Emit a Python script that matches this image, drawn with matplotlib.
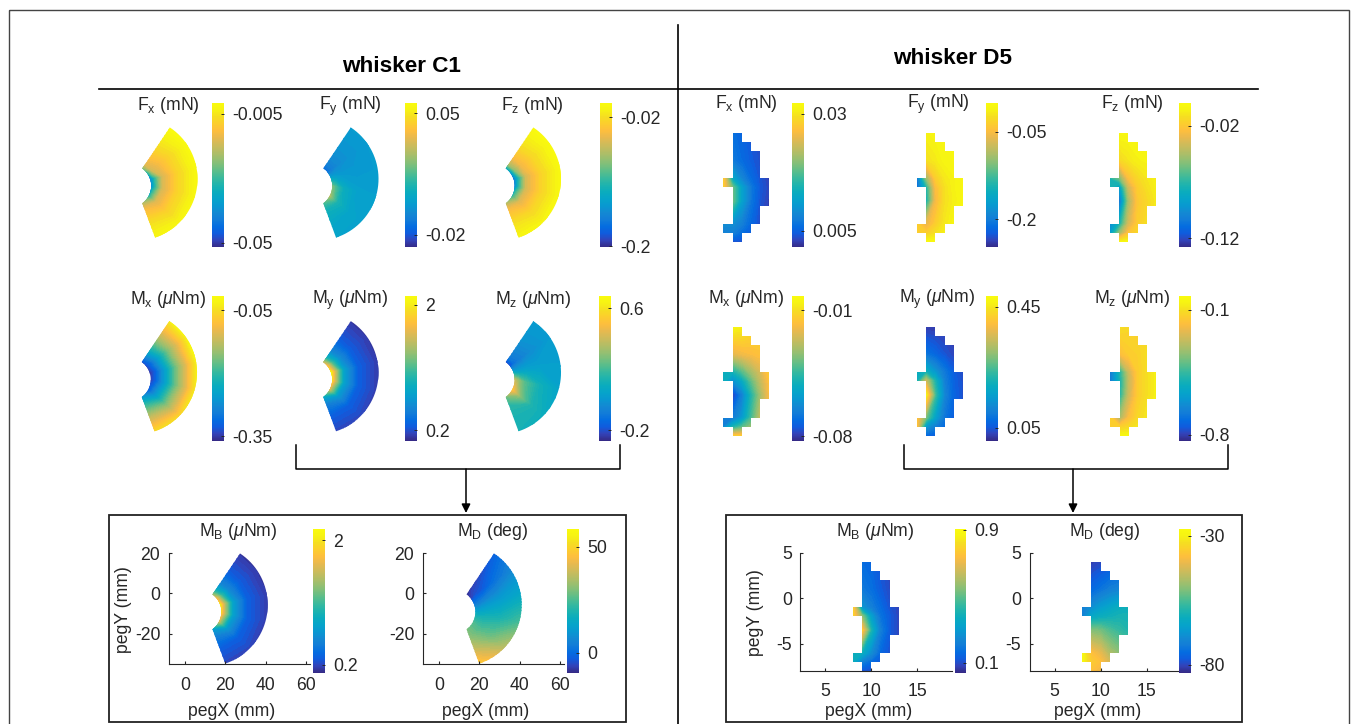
import numpy as np
import matplotlib
matplotlib.use('Agg')
import matplotlib.pyplot as plt
from matplotlib.colors import LinearSegmentedColormap, Normalize
from matplotlib.cm import ScalarMappable
from matplotlib.patches import Polygon, Rectangle

plt.rcParams['font.family'] = ['Liberation Sans', 'DejaVu Sans']
plt.rcParams['mathtext.fontset'] = 'custom'
plt.rcParams['mathtext.rm'] = 'Liberation Sans'
plt.rcParams['mathtext.it'] = 'Liberation Sans:italic'
plt.rcParams['mathtext.bf'] = 'Liberation Sans:bold'
plt.rcParams['axes.unicode_minus'] = False

W, H = 1357, 724
FS = 12.7
DARK = '#262626'

# whisker C1: value tables, rows = angle around the peg arc, columns = radius (mm)
c1_angles = [60, 36, 12, -12, -40, -72]
c1_radii = [8, 11, 15, 22, 34]
c1_fx = [[-.0238, -.0137, -.0102, -.0061, -.0011],
         [-.0313, -.0152, -.0122, -.0077, -.0011],
         [-.0439, -.0288, -.0152, -.0082, -.0011],
         [-.0475, -.0303, -.0152, -.0082, -.0011],
         [-.0455, -.0273, -.0142, -.0082, -.0011],
         [-.0339, -.0187, -.0112, -.0061, -.0011]]
c1_fy = [[-.0155, -.0105, -.0072, -.0047, -.0022],
         [-.0155, -.0105, -.0072, -.0047, -.0022],
         [.0045, .0003, -.0022, -.0030, -.0022],
         [.0244, .0145, .0045, -.0005, -.0013],
         [.0435, .0228, .0078, .0012, -.0013],
         [.0311, .0145, .0061, .0020, -.0005]]
c1_fz = [[-.1411, -.0704, -.0400, -.0198, .0004],
         [-.1573, -.0805, -.0440, -.0239, .0004],
         [-.1856, -.1209, -.0560, -.0280, .0004],
         [-.1856, -.1169, -.0560, -.0280, .0004],
         [-.1715, -.1007, -.0520, -.0260, .0004],
         [-.1411, -.0704, -.0400, -.0198, .0004]]
c1_mx = [[-.3438, -.2921, -.2301, -.1475, -.0338],
         [-.3472, -.3128, -.2577, -.1612, -.0235],
         [-.3576, -.3334, -.2749, -.1716, -.0166],
         [-.3576, -.3334, -.2749, -.1716, -.0166],
         [-.3507, -.3162, -.2577, -.1612, -.0235],
         [-.3266, -.2646, -.2060, -.1268, -.0235]]
c1_my = [[1.504, .879, .504, .254, .088],
         [1.817, 1.088, .588, .254, .088],
         [2.233, 1.460, .733, .275, .088],
         [2.233, 1.460, .733, .275, .088],
         [2.129, 1.337, .671, .275, .108],
         [1.400, .775, .463, .254, .108]]
c1_mz = [[-.222, -.099, -.061, -.013, .015],
         [-.222, -.120, -.075, -.030, .015],
         [.110, .044, .044, .034, .025],
         [.443, .320, .206, .110, .034],
         [.633, .491, .301, .139, .072],
         [.320, .225, .158, .129, .110]]
c1_mb = [[1.372, .875, .544, .295, .129],
         [1.745, 1.082, .606, .295, .129],
         [2.159, 1.455, .751, .316, .129],
         [2.159, 1.455, .751, .316, .129],
         [2.118, 1.331, .689, .316, .150],
         [1.227, .709, .502, .295, .150]]
c1_md = [[-8, -8, -7, -6, -3],
         [-7, -4, -3, 1, 6],
         [3, 5, 8, 11, 15],
         [14, 15, 17, 19, 25],
         [24.5, 24.5, 24.5, 28, 39.4],
         [30, 30, 31, 39, 55]]

# whisker D5: value tables on the peg grid, rows = pegY, columns = pegX (mm)
d5_x = [8, 9, 10, 11, 12, 13]
d5_y = [4, 1, -1, -2, -3.5, -6, -7, -8]
d5_fx = [[.0061, .0061, .0052, .0040, .0030, .0027],
         [.0071, .0071, .0058, .0046, .0037, .0027],
         [.0278, .0123, .0083, .0058, .0040, .0027],
         [.0278, .0185, .0114, .0071, .0043, .0030],
         [.0200, .0185, .0114, .0068, .0040, .0027],
         [.0092, .0092, .0077, .0055, .0034, .0027],
         [.0077, .0077, .0061, .0046, .0034, .0027],
         [.0046, .0040, .0037, .0030, .0027, .0027]]
d5_fy = [[-.013, -.013, -.010, -.008, -.005, -.005],
         [-.025, -.025, -.018, -.010, -.008, -.005],
         [-.211, -.0995, -.038, -.020, -.013, -.008],
         [-.211, -.144, -.050, -.025, -.013, -.008],
         [-.149, -.149, -.055, -.025, -.015, -.008],
         [-.038, -.062, -.038, -.020, -.010, -.008],
         [-.038, -.038, -.025, -.015, -.010, -.008],
         [-.013, -.008, -.005, -.005, -.005, -.005]]
d5_fz = [[-.003, -.003, -.003, -.003, -.003, -.003],
         [-.019, -.015, -.010, -.006, -.005, -.003],
         [-.074, -.057, -.025, -.015, -.010, -.006],
         [-.074, -.0895, -.038, -.019, -.012, -.007],
         [-.109, -.109, -.048, -.021, -.015, -.009],
         [-.096, -.077, -.036, -.019, -.012, -.009],
         [-.092, -.051, -.023, -.015, -.010, -.009],
         [-.003, -.003, -.003, -.003, -.003, -.003]]
d5_mx = [[-.0046, -.0046, -.0062, -.0102, -.0119, -.0143],
         [-.0223, -.0223, -.0199, -.0183, -.0167, -.0143],
         [-.0520, -.0504, -.0424, -.0328, -.0247, -.0143],
         [-.0520, -.0625, -.0545, -.0408, -.0280, -.0167],
         [-.0746, -.0802, -.0665, -.0488, -.0328, -.0183],
         [-.0665, -.0681, -.0601, -.0440, -.0280, -.0183],
         [-.0665, -.0504, -.0424, -.0344, -.0263, -.0183],
         [-.0143, -.0143, -.0143, -.0143, -.0143, -.0143]]
d5_my = [[.021, .021, .021, .021, .021, .021],
         [.093, .084, .064, .045, .031, .026],
         [.189, .198, .141, .093, .055, .036],
         [.189, .342, .208, .103, .060, .040],
         [.462, .462, .237, .112, .064, .040],
         [.399, .270, .160, .088, .055, .040],
         [.399, .141, .103, .069, .045, .040],
         [.064, .064, .055, .045, .040, .040]]
d5_mz = [[-.103, -.103, -.119, -.119, -.119, -.103],
         [-.184, -.184, -.144, -.135, -.103, -.079],
         [-.686, -.492, -.265, -.144, -.103, -.063],
         [-.686, -.508, -.281, -.144, -.103, -.063],
         [-.492, -.492, -.265, -.144, -.103, -.063],
         [-.144, -.330, -.184, -.119, -.087, -.063],
         [-.144, -.144, -.119, -.087, -.079, -.063],
         [-.046, -.046, -.046, -.046, -.046, -.046]]
d5_mb = [[.160, .160, .143, .108, .082, .082],
         [.212, .195, .169, .126, .091, .082],
         [.802, .282, .212, .160, .108, .082],
         [.802, .559, .316, .178, .126, .082],
         [.776, .776, .403, .212, .126, .082],
         [.368, .368, .256, .152, .108, .082],
         [.368, .212, .160, .126, .091, .082],
         [.108, .108, .100, .091, .082, .082]]
d5_md = [[-81, -81, -80, -79, -78, -78],
         [-76, -76, -74, -72, -71, -69],
         [-72, -69, -66, -64, -62, -61],
         [-72, -64, -62, -61, -60, -60],
         [-52, -51, -52, -55, -57, -59],
         [-29, -38, -41, -47, -50, -52],
         [-29, -36, -38, -43, -45, -47],
         [-37, -38, -40, -41, -43, -44]]
# peg rows of whisker D5: top of row, first and last pegX edge
d5_row_top = [4, 3, 2, 1, 0, -1, -2, -3, -4, -5, -6, -7]
d5_row_left = [9, 9, 9, 9, 9, 8, 9, 9, 9, 9, 8, 9]
d5_row_right = [10, 11, 12, 12, 12, 13, 13, 13, 12, 12, 11, 10]

# colorbar limits and ticks
c1_lims = {'fx': (-.0515, -.0011), 'fy': (-.0271, .056), 'fz': (-.2018, .0004),
           'mx': (-.361, -.0166), 'my': (.046, 2.129), 'mz': (-.27, .681),
           'mb': (.088, 2.159), 'md': (-9.3, 58.3)}
c1_ticks = {'fx': ['-0.05', '-0.005'], 'fy': ['-0.02', '0.05'], 'fz': ['-0.2', '-0.02'],
            'mx': ['-0.35', '-0.05'], 'my': ['0.2', '2'], 'mz': ['-0.2', '0.6'],
            'mb': ['0.2', '2'], 'md': ['0', '50']}
d5_lims = {'fx': (.0015, .0324), 'fy': (-.248, -.0005), 'fz': (-.128, .0004),
           'mx': (-.0826, -.0022), 'my': (.007, .4855), 'mz': (-.832, -.022),
           'mb': (.039, .906), 'md': (-83, -27.3)}
d5_ticks = {'fx': ['0.005', '0.03'], 'fy': ['-0.2', '-0.05'], 'fz': ['-0.12', '-0.02'],
            'mx': ['-0.08', '-0.01'], 'my': ['0.05', '0.45'], 'mz': ['-0.8', '-0.1'],
            'mb': ['0.1', '0.9'], 'md': ['-80', '-30']}

parula = LinearSegmentedColormap.from_list('parula', [
    (0.2081, 0.1663, 0.5292), (0.1959, 0.2645, 0.7279), (0.0591, 0.3598, 0.8683),
    (0.0165, 0.4266, 0.8786), (0.0723, 0.4887, 0.8467), (0.0749, 0.5375, 0.8263),
    (0.0343, 0.5966, 0.8199), (0.0231, 0.6418, 0.7913), (0.0384, 0.6743, 0.7436),
    (0.1133, 0.7015, 0.6859), (0.2178, 0.7250, 0.6193), (0.3482, 0.7424, 0.5473),
    (0.4871, 0.7491, 0.4840), (0.6099, 0.7473, 0.4337), (0.7184, 0.7411, 0.3905),
    (0.8185, 0.7327, 0.3498), (0.9139, 0.7258, 0.3063), (0.9938, 0.7455, 0.2403),
    (0.9880, 0.8066, 0.1794), (0.9626, 0.8705, 0.1309), (0.9661, 0.9514, 0.0755),
    (0.9763, 0.9831, 0.0538)], N=256)

fig = plt.figure(figsize=(W / 100, H / 100), dpi=100)

# everything that is not a panel is drawn in pixel coordinates
bg = fig.add_axes([0, 0, 1, 1])
bg.set_xlim(0, W)
bg.set_ylim(H, 0)
bg.axis('off')


def add_px_axes(left, bottom, width, height):
    return fig.add_axes([left / W, 1 - bottom / H, width / W, height / H])


def add_colorbar(norm, ticks, left, top, bottom):
    cax = add_px_axes(left, bottom, 11.7, bottom - top)
    cb = fig.colorbar(ScalarMappable(norm=norm, cmap=parula), cax=cax, ticks=[float(t) for t in ticks])
    cb.set_ticklabels(ticks)
    cb.outline.set_visible(False)
    cax.tick_params(direction='in', length=2, width=0.7, color=DARK, labelcolor=DARK, labelsize=FS, pad=6)


def style_axes(ax, xticks, yticks, ylabel, ypx, xlabelpad):
    ax.patch.set_visible(False)
    ax.spines['top'].set_visible(False)
    ax.spines['right'].set_visible(False)
    ax.spines['left'].set_color(DARK)
    ax.spines['bottom'].set_color(DARK)
    ax.set_xticks(xticks)
    ax.set_yticks(yticks)
    ax.tick_params(direction='in', length=2, color=DARK, labelcolor=DARK, labelsize=FS)
    ax.tick_params(axis='x', pad=9)
    ax.tick_params(axis='y', pad=6)
    ax.set_xlabel('pegX (mm)', fontsize=FS, color=DARK, labelpad=xlabelpad)
    ax.xaxis.label.set_x(0.5 - 8 / ax.get_position().width / W)
    if ylabel:
        bg.text(ypx[0], ypx[1], 'pegY (mm)', rotation=90, ha='center', va='center', fontsize=FS, color=DARK)


def c1_panel(ax, values, lims):
    norm = Normalize(*lims)
    ang = np.radians(c1_angles)
    r, a = np.meshgrid(c1_radii, ang)
    x = 9 + r * np.cos(a)
    y = -7.5 + r * np.sin(a)
    cs = ax.contourf(x, y, np.array(values), levels=np.linspace(lims[0], lims[1], 65),
                     cmap=parula, norm=norm, extend='both')
    # wedge outline: outer arc, then inner arc back
    t1 = np.radians(np.linspace(56.5, -71.8, 40))
    t2 = np.radians(np.linspace(-54, 54, 25))
    ox = np.r_[10.42 + 30.6 * np.cos(t1), 7.4 + 10.7 * np.cos(t2)]
    oy = np.r_[-5.73 + 30.6 * np.sin(t1), -9.15 + 10.7 * np.sin(t2)]
    cs.set_clip_path(Polygon(np.c_[ox, oy], transform=ax.transData))
    ax.set_xlim(-8, 62)
    ax.set_ylim(-35, 20)
    return norm


def d5_panel(ax, values, lims):
    norm = Normalize(*lims)
    cs = ax.contourf(d5_x, d5_y, np.array(values), levels=np.linspace(lims[0], lims[1], 65),
                     cmap=parula, norm=norm, extend='both')
    # staircase outline of the visited peg positions
    right = []
    left = []
    for top, l, r in zip(d5_row_top, d5_row_left, d5_row_right):
        right += [(r, top), (r, top - 1)]
        left += [(l, top), (l, top - 1)]
    cs.set_clip_path(Polygon(right + left[::-1], transform=ax.transData))
    ax.set_xlim(2.3, 18.8)
    ax.set_ylim(-8, 5)
    return norm


C1W, C1H = 141.4, 111
D5W, D5H = 151.8, 118.3

# (key, data, axes left, axes bottom, colorbar left, colorbar top, colorbar bottom)
c1_small = [('fx', c1_fx, 98.5, 238, 212.3, 102.7, 247.3),
            ('fy', c1_fy, 279.5, 238, 405.3, 102.7, 247.3),
            ('fz', c1_fz, 462, 238, 600, 102.7, 247.3),
            ('mx', c1_mx, 98, 431.7, 212.3, 296, 440.7),
            ('my', c1_my, 279.5, 431.7, 405.3, 296, 440.7),
            ('mz', c1_mz, 462, 431.7, 599, 296, 440.7)]
for key, data, left, bottom, cb_left, cb_top, cb_bottom in c1_small:
    ax = add_px_axes(left, bottom, C1W, C1H)
    norm = c1_panel(ax, data, c1_lims[key])
    ax.axis('off')
    add_colorbar(norm, c1_ticks[key], cb_left, cb_top, cb_bottom)

d5_small = [('fx', d5_fx, 670.9, 242, 792.3, 102.7, 247.3),
            ('fy', d5_fy, 864.6, 242, 986, 102.7, 247.3),
            ('fz', d5_fz, 1057.6, 242, 1179, 102.7, 247.3),
            ('mx', d5_mx, 670.9, 435.7, 792.3, 296, 440.7),
            ('my', d5_my, 864.6, 435.7, 986, 296, 440.7),
            ('mz', d5_mz, 1057.9, 435.7, 1179.3, 296, 440.7)]
for key, data, left, bottom, cb_left, cb_top, cb_bottom in d5_small:
    ax = add_px_axes(left, bottom, D5W, D5H)
    norm = d5_panel(ax, data, d5_lims[key])
    ax.axis('off')
    add_colorbar(norm, d5_ticks[key], cb_left, cb_top, cb_bottom)

# framed panels at the bottom
ax = add_px_axes(168.7, 664, C1W, C1H)
norm = c1_panel(ax, c1_mb, c1_lims['mb'])
style_axes(ax, [0, 20, 40, 60], [-20, 0, 20], True, (123, 610), 7)
add_colorbar(norm, c1_ticks['mb'], 313.3, 529, 672.7)

ax = add_px_axes(422.7, 664, C1W, C1H)
norm = c1_panel(ax, c1_md, c1_lims['md'])
style_axes(ax, [0, 20, 40, 60], [-20, 0, 20], False, None, 7)
add_colorbar(norm, c1_ticks['md'], 567.3, 529, 672.7)

ax = add_px_axes(800.3, 671, D5W, D5H)
norm = d5_panel(ax, d5_mb, d5_lims['mb'])
style_axes(ax, [5, 10, 15], [-5, 0, 5], True, (755, 613), 1.5)
add_colorbar(norm, d5_ticks['mb'], 954.7, 529, 672.7)

ax = add_px_axes(1029.7, 671, D5W, D5H)
norm = d5_panel(ax, d5_md, d5_lims['md'])
style_axes(ax, [5, 10, 15], [-5, 0, 5], False, None, 1.5)
add_colorbar(norm, d5_ticks['md'], 1179.3, 529, 672.7)

# panel titles
F_LABELS = {'x': r'F$_{\mathrm{x}}$ (mN)', 'y': r'F$_{\mathrm{y}}$ (mN)', 'z': r'F$_{\mathrm{z}}$ (mN)'}
M_LABELS = {'x': r'M$_{\mathrm{x}}$ ($\mu$Nm)', 'y': r'M$_{\mathrm{y}}$ ($\mu$Nm)', 'z': r'M$_{\mathrm{z}}$ ($\mu$Nm)'}
for k, xc, y in [('x', 168, 110), ('y', 350, 110), ('z', 532.7, 110),
                 ('x', 746, 107.7), ('y', 938, 107.7), ('z', 1132, 107.7)]:
    bg.text(xc, y, F_LABELS[k], ha='center', va='baseline', fontsize=FS, color=DARK)
for k, xc, y in [('x', 168, 304), ('y', 350, 304), ('z', 532.7, 304),
                 ('x', 746, 302.7), ('y', 937, 302.7), ('z', 1132.6, 302.7)]:
    bg.text(xc, y, M_LABELS[k], ha='center', va='baseline', fontsize=FS, color=DARK)
for xc in [238, 875]:
    bg.text(xc, 535.7, r'M$_{\mathrm{B}}$ ($\mu$Nm)', ha='center', va='baseline', fontsize=FS, color=DARK)
for xc in [492.7, 1105]:
    bg.text(xc, 535.7, r'M$_{\mathrm{D}}$ (deg)', ha='center', va='baseline', fontsize=FS, color=DARK)

bg.text(402, 67, 'whisker C1', ha='center', va='center', fontsize=16.2, fontweight='bold', color='k')
bg.text(953, 59, 'whisker D5', ha='center', va='center', fontsize=16.2, fontweight='bold', color='k')

# frame, dividers, brackets
bg.add_patch(Rectangle((8.5, 9.5), 1340, 730, fill=False, ec='#444444', lw=1))
bg.plot([99, 1258], [89, 89], color='k', lw=1.2)
bg.plot([678, 678], [25, 724], color='k', lw=1.2)
bg.add_patch(Rectangle((108.5, 515), 517, 207, fill=False, ec='#222222', lw=1.3))
bg.add_patch(Rectangle((726, 515), 516, 207, fill=False, ec='#222222', lw=1.3))
for x0, x1, xa in [(296, 620, 466), (904, 1228, 1073)]:
    bg.plot([x0, x0, x1, x1], [445, 469, 469, 445], color='k', lw=1.1)
    bg.annotate('', xy=(xa, 513), xytext=(xa, 469),
                arrowprops=dict(arrowstyle='-|>', color='k', lw=1.1, shrinkA=0, shrinkB=0, mutation_scale=13))
bg.set_xlim(0, W)
bg.set_ylim(H, 0)

fig.savefig('out.png', dpi=100)
